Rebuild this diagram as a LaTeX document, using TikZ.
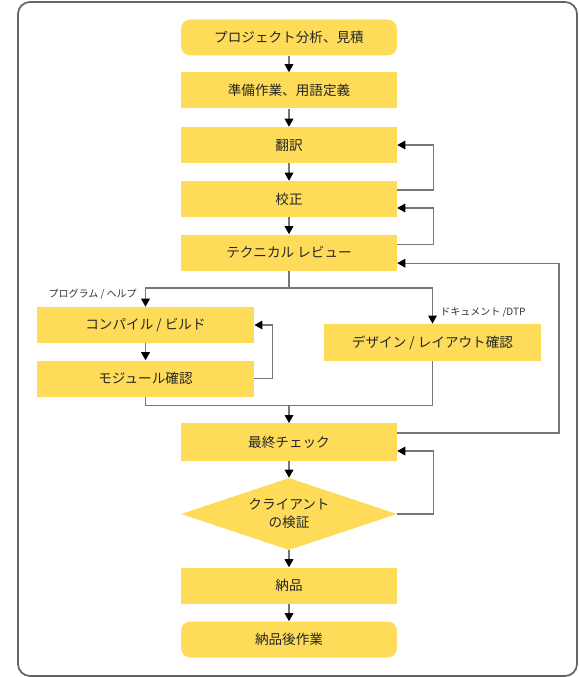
\documentclass[tikz,border=0pt]{standalone}
\usepackage{fontspec}
\newfontfamily\jpfont{Noto Sans CJK JP}
\usetikzlibrary{arrows.meta, positioning, calc, shapes.geometric}
\definecolor{boxyellow}{RGB}{254,220,90}
\definecolor{linegray}{RGB}{118,118,118}
\definecolor{framegray}{RGB}{100,100,100}

\begin{document}
\begin{tikzpicture}[x=0.75pt, y=-0.75pt, font=\jpfont\fontsize{10.2}{13.5}\selectfont,
    stepbox/.style={fill=boxyellow, minimum width=162pt, minimum height=27pt, inner sep=0pt, text=black!85},
    endbox/.style={stepbox, rounded corners=7pt},
    checkbox/.style={diamond, aspect=3, fill=boxyellow, minimum width=162pt, minimum height=54pt, inner sep=0pt, align=center, text=black!85},
    flow/.style={draw=linegray, line width=0.9pt},
    arr/.style={flow, -{Triangle[length=6pt, width=6.5pt, color=black]}},
    branch/.style={font=\jpfont\fontsize{7.5}{9}\selectfont, text=black!80, inner sep=0pt}]
        \useasboundingbox (0,0) rectangle (578,677);
        % Frame
        \draw[framegray, line width=1.3pt, rounded corners=9pt] (18,2) rectangle (577,676);

        % Main column
        \node[endbox] (start) at (289,37.5) {プロジェクト分析、見積};
        \node[stepbox] (prep) at (289,90.5) {準備作業、用語定義};
        \node[stepbox] (trans) at (289,145) {翻訳};
        \node[stepbox] (proof) at (289,199) {校正};
        \node[stepbox] (review) at (289,252.5) {テクニカル レビュー};

        % Branches
        \node[stepbox, minimum width=163pt] (compile) at (145.5,325) {コンパイル / ビルド};
        \node[stepbox, minimum width=163pt] (module) at (145.5,378.5) {モジュール確認};
        \node[stepbox, minimum width=163pt, minimum height=28pt] (design) at (432.5,342.5) {デザイン / レイアウト確認};
        \node[branch, anchor=north east] (lblprog) at (137,289) {プログラム / ヘルプ};
        \node[branch, anchor=west] (lbldoc) at (440,312) {ドキュメント /DTP};

        % Checks and delivery
        \node[stepbox, minimum height=28pt] (final) at (289,442) {最終チェック};
        \node[checkbox] (client) at (289,514) {クライアント\\の検証};
        \node[stepbox] (deliver) at (289,585.5) {納品};
        \node[endbox] (post) at (289,639.5) {納品後作業};

        % Coordinates for the connectors
        \coordinate (split) at (289,288);
        \coordinate (merge) at (289,405.5);
        \coordinate (loopR) at (559,350);

        % Straight arrows
        \draw[arr] (start) -- (prep);
        \draw[arr] (prep) -- (trans);
        \draw[arr] (trans) -- (proof);
        \draw[arr] (proof) -- (review);
        \draw[arr] (compile) -- (module);
        \draw[arr] (merge) -- (final);
        \draw[arr] (final) -- (client);
        \draw[arr] (client) -- (deliver);
        \draw[arr] (deliver) -- (post);

        % Split and merge
        \draw[flow] (review.south) -- (split);
        \draw[arr] (split) -| (compile.north);
        \draw[arr] (split) -| (design.north);
        \draw[flow] (module.south) |- (merge);
        \draw[flow] (design.south) |- (merge);

        % Feedback loops
        \draw[arr] ([yshift=6.75pt]proof.east) -- ++(36,0) |- (trans.east);
        \draw[arr] ([yshift=6pt]review.east) -- ++(36,0) |- ([yshift=-6.75pt]proof.east);
        \draw[arr] (module.east) -- ++(18,0) |- (compile.east);
        \draw[arr] ([yshift=6.75pt]final.east) -| (loopR) |- ([yshift=-8pt]review.east);
        \draw[arr] (client.east) -- ++(36,0) |- ([yshift=-6.75pt]final.east);
    \end{tikzpicture}
\end{document}
